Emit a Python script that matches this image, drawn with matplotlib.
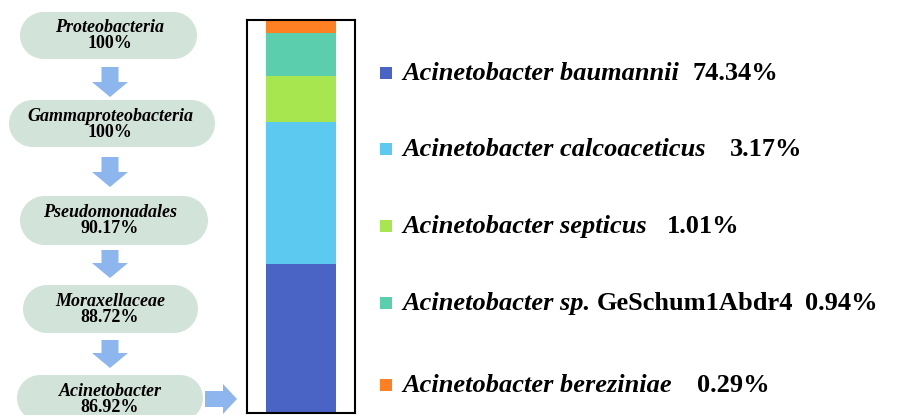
import matplotlib.pyplot as plt
import matplotlib.patches as mpatches

# 分类层级与占比
taxa = ['Proteobacteria', 'Gammaproteobacteria', 'Pseudomonadales',
        'Moraxellaceae', 'Acinetobacter']
taxa_pct = ['100%', '100%', '90.17%', '88.72%', '86.92%']

# 物种（自下而上堆叠）
species = ['baumannii', 'calcoaceticus', 'septicus', 'sp.', 'bereziniae']
species_pct = [74.34, 3.17, 1.01, 0.94, 0.29]
# 柱内各段的显示高度（从原图读取，非按比例）
bar_heights = [37.8, 36.2, 11.7, 10.9, 3.2]
colors = ['#4A64C6', '#5CC9F1', '#A8E650', '#5BCFAD', '#FF7F22']

plt.rcParams['font.family'] = ['Liberation Serif', 'DejaVu Serif']

fig = plt.figure(figsize=(9.08, 4.15), dpi=100)

# 背景画布，按像素坐标布局流程图
ax = fig.add_axes([0, 0, 1, 1])
ax.set_xlim(0, 908)
ax.set_ylim(415, 0)
ax.axis('off')

pill_boxes = [(20, 12, 177, 47), (9, 100, 206, 47), (20, 196, 188, 49),
              (23, 285, 175, 48), (17, 375, 186, 46)]
pill_color = '#D2E4DA'
for (x, y, w, h), name, pct in zip(pill_boxes, taxa, taxa_pct):
    r = h / 2
    # 中间矩形 + 左右两端的半圆
    ax.add_patch(mpatches.Rectangle((x + r, y), w - 2 * r, h, fc=pill_color, ec='none'))
    ax.add_patch(mpatches.Ellipse((x + r, y + r), h, h, fc=pill_color, ec='none'))
    ax.add_patch(mpatches.Ellipse((x + w - r, y + r), h, h, fc=pill_color, ec='none'))
    ax.text(110, y + 16, name, ha='center', va='center', fontsize=13,
            fontstyle='italic', fontweight='bold')
    ax.text(110, y + 32, pct, ha='center', va='center', fontsize=13,
            fontweight='bold')

arrow_color = '#8DB5EE'
for y0, y1 in [(67, 97), (157, 187), (250, 278), (340, 368)]:
    ax.add_patch(mpatches.FancyArrow(110, y0, 0, y1 - y0, width=17, head_width=36,
                                     head_length=15, length_includes_head=True,
                                     fc=arrow_color, ec='none'))
ax.add_patch(mpatches.FancyArrow(205, 399, 32, 0, width=16, head_width=30,
                                 head_length=14, length_includes_head=True,
                                 fc=arrow_color, ec='none'))

# 图例
row_y = [73, 149, 226, 303, 385]
for i, yy in enumerate(row_y):
    ax.add_patch(mpatches.Rectangle((380, yy - 6), 12, 12, fc=colors[i], ec='none'))

fs = 19
ax.text(402, row_y[0], 'Acinetobacter baumannii', va='center', fontsize=fs,
        fontstyle='italic', fontweight='bold')
ax.text(693, row_y[0], f'{species_pct[0]:.2f}%', va='center', fontsize=fs, fontweight='bold')
ax.text(402, row_y[1], 'Acinetobacter calcoaceticus', va='center', fontsize=fs,
        fontstyle='italic', fontweight='bold')
ax.text(730, row_y[1], f'{species_pct[1]:.2f}%', va='center', fontsize=fs, fontweight='bold')
ax.text(402, row_y[2], 'Acinetobacter septicus', va='center', fontsize=fs,
        fontstyle='italic', fontweight='bold')
ax.text(667, row_y[2], f'{species_pct[2]:.2f}%', va='center', fontsize=fs, fontweight='bold')
ax.text(402, row_y[3], 'Acinetobacter sp.', va='center', fontsize=fs,
        fontstyle='italic', fontweight='bold')
ax.text(597, row_y[3], 'GeSchum1Abdr4', va='center', fontsize=fs, fontweight='bold')
ax.text(805, row_y[3], f'{species_pct[3]:.2f}%', va='center', fontsize=fs, fontweight='bold')
ax.text(402, row_y[4], 'Acinetobacter bereziniae', va='center', fontsize=fs,
        fontstyle='italic', fontweight='bold')
ax.text(697, row_y[4], f'{species_pct[4]:.2f}%', va='center', fontsize=fs, fontweight='bold')

# 堆叠柱
bax = fig.add_axes([247 / 908, 2 / 415, 108 / 908, 393 / 415])
bottom = 0
for h, c in zip(bar_heights, colors):
    bax.bar(0, h, bottom=bottom, width=0.64, color=c, linewidth=0)
    bottom += h
bax.set_xlim(-0.5, 0.5)
bax.set_ylim(0, bottom + 0.2)
bax.set_xticks([])
bax.set_yticks([])
for s in bax.spines.values():
    s.set_linewidth(1.5)
    s.set_color('black')

fig.savefig('out.png', dpi=100)
